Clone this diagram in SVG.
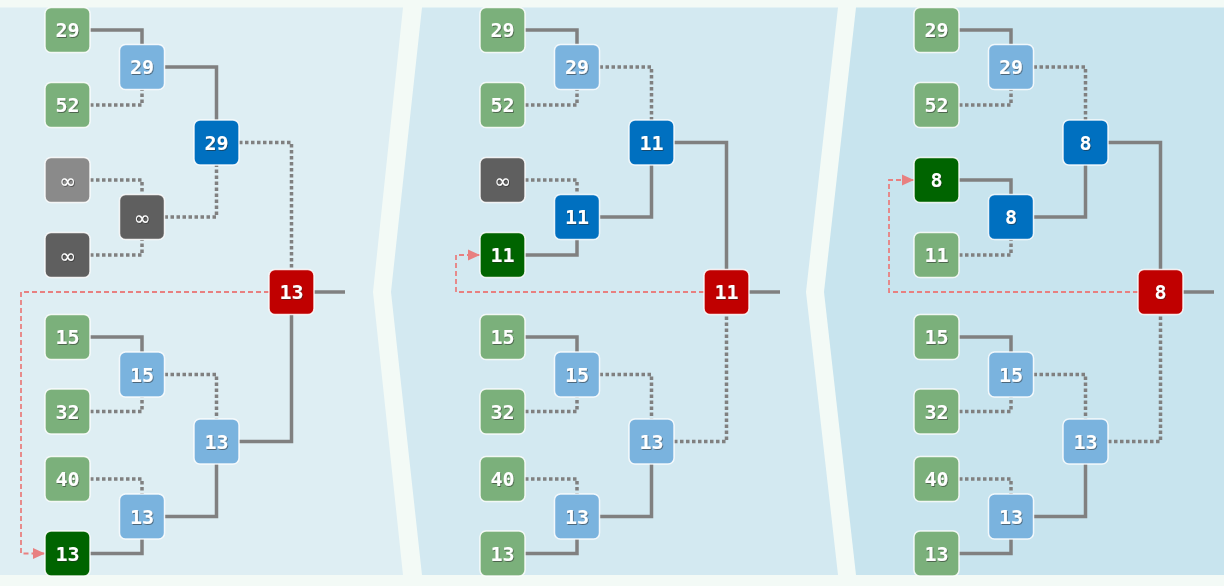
<svg xmlns="http://www.w3.org/2000/svg" width="1224" height="586" viewBox="0 0 1224 586">
<style>
.bg{fill:#f3faf6}
.n rect{stroke:#ffffff;stroke-width:1.5;stroke-opacity:0.85}
.n text{fill:#ffffff;font-family:"DejaVu Sans Mono","Liberation Mono",monospace;font-weight:bold;font-size:20px;text-anchor:middle;filter:url(#sh)}
.n text.inf{font-family:"DejaVu Sans","Liberation Sans",sans-serif;font-weight:normal;font-size:20px}
.lg{fill:#7bb07b}.dg{fill:#006400}.lb{fill:#7ab3de}.db{fill:#0070c0}.rd{fill:#c00000}.gy{fill:#8a8a8a}.dk{fill:#5f5f5f}
.s{fill:none;stroke:#808080;stroke-width:3.5}
.d{fill:none;stroke:#808080;stroke-width:3.5;stroke-dasharray:3.5 2.5}
.r{fill:none;stroke:#e88080;stroke-width:1.8;stroke-dasharray:5 3}
</style>
<defs>
<filter id="sh" x="-30%" y="-30%" width="160%" height="160%">
<feDropShadow dx="0.8" dy="1" stdDeviation="0.4" flood-color="#2a2a2a" flood-opacity="0.55"/>
</filter>
<marker id="ah" markerUnits="userSpaceOnUse" markerWidth="13" markerHeight="12" refX="12" refY="6" orient="auto">
<path d="M0,0.5 L12,6 L0,11.5 z" fill="#e88080"/>
</marker>
</defs>
<rect class="bg" x="0" y="0" width="1224" height="586"/>
<g id="panels">
<polygon points="0,7.5 403,7.5 373,292 403,575 0,575" fill="#deeef3"/>
<polygon points="422,7.5 838,7.5 806,292 838,575 422,575 391,292" fill="#d3e9f1"/>
<polygon points="856,7.5 1224,7.5 1224,575 856,575 824,292" fill="#c8e4ee"/>
</g>

<g id="connectors">
<g id="conn-p1">
<path class="s" d="M90,30 H142 V44.5"/>
<path class="d" d="M90,105 H142 V89.5"/>
<path class="d" d="M90,180 H142 V194.5"/>
<path class="d" d="M90,255 H142 V239.5"/>
<path class="s" d="M164.5,67 H216.5 V120"/>
<path class="d" d="M164.5,217 H216.5 V165"/>
<path class="d" d="M239,142.5 H291.5 V269.5"/>
<path class="s" d="M90,337 H142 V352"/>
<path class="d" d="M90,411.5 H142 V397"/>
<path class="d" d="M90,479 H142 V494"/>
<path class="s" d="M90,553.5 H142 V539"/>
<path class="d" d="M164.5,374.5 H216.5 V419"/>
<path class="s" d="M164.5,516.5 H216.5 V464"/>
<path class="s" d="M239,441.5 H291.5 V314.5"/>
<path class="s" d="M314,292 H345"/>
<path class="r" d="M269,292 H21 V553.5 H45" marker-end="url(#ah)"/>
</g>
<g id="conn-p2" transform="translate(435,0)">
<path class="s" d="M90,30 H142 V44.5"/>
<path class="d" d="M90,105 H142 V89.5"/>
<path class="d" d="M90,180 H142 V194.5"/>
<path class="s" d="M90,255 H142 V239.5"/>
<path class="d" d="M164.5,67 H216.5 V120"/>
<path class="s" d="M164.5,217 H216.5 V165"/>
<path class="s" d="M239,142.5 H291.5 V269.5"/>
<path class="s" d="M90,337 H142 V352"/>
<path class="d" d="M90,411.5 H142 V397"/>
<path class="d" d="M90,479 H142 V494"/>
<path class="s" d="M90,553.5 H142 V539"/>
<path class="d" d="M164.5,374.5 H216.5 V419"/>
<path class="s" d="M164.5,516.5 H216.5 V464"/>
<path class="d" d="M239,441.5 H291.5 V314.5"/>
<path class="s" d="M314,292 H345"/>
<path class="r" d="M269,292 H21 V255 H45" marker-end="url(#ah)"/>
</g>
<g id="conn-p3" transform="translate(869,0)">
<path class="s" d="M90,30 H142 V44.5"/>
<path class="d" d="M90,105 H142 V89.5"/>
<path class="s" d="M90,180 H142 V194.5"/>
<path class="d" d="M90,255 H142 V239.5"/>
<path class="d" d="M164.5,67 H216.5 V120"/>
<path class="s" d="M164.5,217 H216.5 V165"/>
<path class="s" d="M239,142.5 H291.5 V269.5"/>
<path class="s" d="M90,337 H142 V352"/>
<path class="d" d="M90,411.5 H142 V397"/>
<path class="d" d="M90,479 H142 V494"/>
<path class="s" d="M90,553.5 H142 V539"/>
<path class="d" d="M164.5,374.5 H216.5 V419"/>
<path class="s" d="M164.5,516.5 H216.5 V464"/>
<path class="d" d="M239,441.5 H291.5 V314.5"/>
<path class="s" d="M314,292 H345"/>
<path class="r" d="M269,292 H20 V180 H45" marker-end="url(#ah)"/>
</g>
</g>

<g id="nodes-p1">
<g id="p1-l1" class="n"><rect class="lg" x="45" y="7.5" width="45" height="45" rx="6"/><text x="67.5" y="37">29</text></g>
<g id="p1-l2" class="n"><rect class="lg" x="45" y="82.5" width="45" height="45" rx="6"/><text x="67.5" y="112">52</text></g>
<g id="p1-l3" class="n"><rect class="gy" x="45" y="157.5" width="45" height="45" rx="6"/><text class="inf" x="67.5" y="187.5">∞</text></g>
<g id="p1-l4" class="n"><rect class="dk" x="45" y="232.5" width="45" height="45" rx="6"/><text class="inf" x="67.5" y="262.5">∞</text></g>
<g id="p1-l5" class="n"><rect class="lg" x="45" y="314.5" width="45" height="45" rx="6"/><text x="67.5" y="344">15</text></g>
<g id="p1-l6" class="n"><rect class="lg" x="45" y="389" width="45" height="45" rx="6"/><text x="67.5" y="418.5">32</text></g>
<g id="p1-l7" class="n"><rect class="lg" x="45" y="456.5" width="45" height="45" rx="6"/><text x="67.5" y="486">40</text></g>
<g id="p1-l8" class="n"><rect class="dg" x="45" y="531" width="45" height="45" rx="6"/><text x="67.5" y="560.5">13</text></g>
<g id="p1-i1" class="n"><rect class="lb" x="119.5" y="44.5" width="45" height="45" rx="6"/><text x="142" y="74">29</text></g>
<g id="p1-i2" class="n"><rect class="dk" x="119.5" y="194.5" width="45" height="45" rx="6"/><text class="inf" x="142" y="224.5">∞</text></g>
<g id="p1-i3" class="n"><rect class="lb" x="119.5" y="352" width="45" height="45" rx="6"/><text x="142" y="381.5">15</text></g>
<g id="p1-i4" class="n"><rect class="lb" x="119.5" y="494" width="45" height="45" rx="6"/><text x="142" y="523.5">13</text></g>
<g id="p1-j1" class="n"><rect class="db" x="194" y="120" width="45" height="45" rx="6"/><text x="216.5" y="149.5">29</text></g>
<g id="p1-j2" class="n"><rect class="lb" x="194" y="419" width="45" height="45" rx="6"/><text x="216.5" y="448.5">13</text></g>
<g id="p1-root" class="n"><rect class="rd" x="269" y="269.5" width="45" height="45" rx="6"/><text x="291.5" y="299">13</text></g>
</g>

<g id="nodes-p2" transform="translate(435,0)">
<g id="p2-l1" class="n"><rect class="lg" x="45" y="7.5" width="45" height="45" rx="6"/><text x="67.5" y="37">29</text></g>
<g id="p2-l2" class="n"><rect class="lg" x="45" y="82.5" width="45" height="45" rx="6"/><text x="67.5" y="112">52</text></g>
<g id="p2-l3" class="n"><rect class="dk" x="45" y="157.5" width="45" height="45" rx="6"/><text class="inf" x="67.5" y="187.5">∞</text></g>
<g id="p2-l4" class="n"><rect class="dg" x="45" y="232.5" width="45" height="45" rx="6"/><text x="67.5" y="262">11</text></g>
<g id="p2-l5" class="n"><rect class="lg" x="45" y="314.5" width="45" height="45" rx="6"/><text x="67.5" y="344">15</text></g>
<g id="p2-l6" class="n"><rect class="lg" x="45" y="389" width="45" height="45" rx="6"/><text x="67.5" y="418.5">32</text></g>
<g id="p2-l7" class="n"><rect class="lg" x="45" y="456.5" width="45" height="45" rx="6"/><text x="67.5" y="486">40</text></g>
<g id="p2-l8" class="n"><rect class="lg" x="45" y="531" width="45" height="45" rx="6"/><text x="67.5" y="560.5">13</text></g>
<g id="p2-i1" class="n"><rect class="lb" x="119.5" y="44.5" width="45" height="45" rx="6"/><text x="142" y="74">29</text></g>
<g id="p2-i2" class="n"><rect class="db" x="119.5" y="194.5" width="45" height="45" rx="6"/><text x="142" y="224">11</text></g>
<g id="p2-i3" class="n"><rect class="lb" x="119.5" y="352" width="45" height="45" rx="6"/><text x="142" y="381.5">15</text></g>
<g id="p2-i4" class="n"><rect class="lb" x="119.5" y="494" width="45" height="45" rx="6"/><text x="142" y="523.5">13</text></g>
<g id="p2-j1" class="n"><rect class="db" x="194" y="120" width="45" height="45" rx="6"/><text x="216.5" y="149.5">11</text></g>
<g id="p2-j2" class="n"><rect class="lb" x="194" y="419" width="45" height="45" rx="6"/><text x="216.5" y="448.5">13</text></g>
<g id="p2-root" class="n"><rect class="rd" x="269" y="269.5" width="45" height="45" rx="6"/><text x="291.5" y="299">11</text></g>
</g>

<g id="nodes-p3" transform="translate(869,0)">
<g id="p3-l1" class="n"><rect class="lg" x="45" y="7.5" width="45" height="45" rx="6"/><text x="67.5" y="37">29</text></g>
<g id="p3-l2" class="n"><rect class="lg" x="45" y="82.5" width="45" height="45" rx="6"/><text x="67.5" y="112">52</text></g>
<g id="p3-l3" class="n"><rect class="dg" x="45" y="157.5" width="45" height="45" rx="6"/><text x="67.5" y="187">8</text></g>
<g id="p3-l4" class="n"><rect class="lg" x="45" y="232.5" width="45" height="45" rx="6"/><text x="67.5" y="262">11</text></g>
<g id="p3-l5" class="n"><rect class="lg" x="45" y="314.5" width="45" height="45" rx="6"/><text x="67.5" y="344">15</text></g>
<g id="p3-l6" class="n"><rect class="lg" x="45" y="389" width="45" height="45" rx="6"/><text x="67.5" y="418.5">32</text></g>
<g id="p3-l7" class="n"><rect class="lg" x="45" y="456.5" width="45" height="45" rx="6"/><text x="67.5" y="486">40</text></g>
<g id="p3-l8" class="n"><rect class="lg" x="45" y="531" width="45" height="45" rx="6"/><text x="67.5" y="560.5">13</text></g>
<g id="p3-i1" class="n"><rect class="lb" x="119.5" y="44.5" width="45" height="45" rx="6"/><text x="142" y="74">29</text></g>
<g id="p3-i2" class="n"><rect class="db" x="119.5" y="194.5" width="45" height="45" rx="6"/><text x="142" y="224">8</text></g>
<g id="p3-i3" class="n"><rect class="lb" x="119.5" y="352" width="45" height="45" rx="6"/><text x="142" y="381.5">15</text></g>
<g id="p3-i4" class="n"><rect class="lb" x="119.5" y="494" width="45" height="45" rx="6"/><text x="142" y="523.5">13</text></g>
<g id="p3-j1" class="n"><rect class="db" x="194" y="120" width="45" height="45" rx="6"/><text x="216.5" y="149.5">8</text></g>
<g id="p3-j2" class="n"><rect class="lb" x="194" y="419" width="45" height="45" rx="6"/><text x="216.5" y="448.5">13</text></g>
<g id="p3-root" class="n"><rect class="rd" x="269" y="269.5" width="45" height="45" rx="6"/><text x="291.5" y="299">8</text></g>
</g>
</svg>
